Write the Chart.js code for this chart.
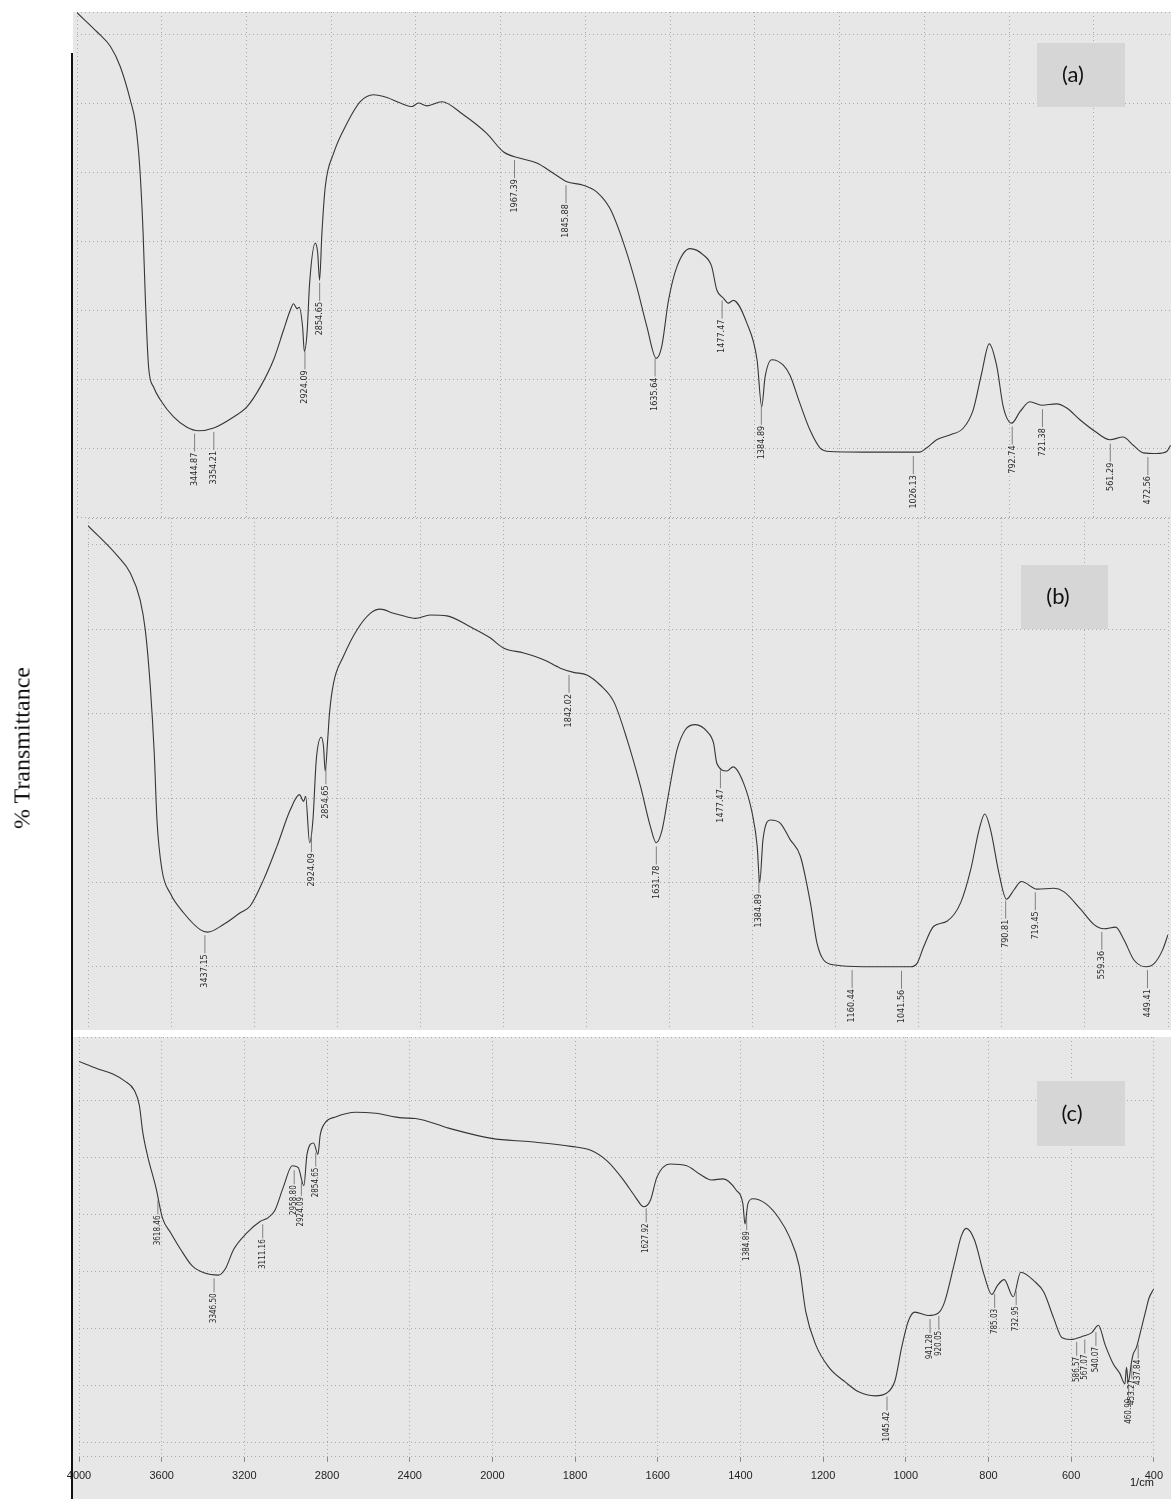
<!DOCTYPE html>
<html>
<head>
<meta charset="utf-8">
<script src="https://cdn.jsdelivr.net/npm/chart.js@4.4.0/dist/chart.umd.min.js"></script>
<style>
html, body { margin: 0; padding: 0; background: #fff; overflow: hidden; }
#page { position: relative; width: 1171px; height: 1499px; }
canvas { position: absolute; left: 0; }
#axisLine { position: absolute; left: 71px; top: 53px; width: 2px; height: 1446px; background: #111; z-index: 5; }
#ytitle { position: absolute; left: 22px; top: 748px; transform: translate(-50%, -50%) rotate(-90deg);
  white-space: nowrap; font: 24px "Liberation Serif", "Times New Roman", serif; color: #111; }
</style>
</head>
<body>
<div id="page">
  <canvas id="chartA" width="1171" height="506" style="top:12px"></canvas>
  <canvas id="chartB" width="1171" height="512" style="top:518px"></canvas>
  <canvas id="chartC" width="1171" height="462" style="top:1037px"></canvas>
  <div id="axisLine"></div>
  <div id="ytitle">% Transmittance</div>
</div>
<script>
// wavenumber ticks (1/cm)
var xTicks = [4000, 3600, 3200, 2800, 2400, 2000, 1800, 1600, 1400, 1200, 1000, 800, 600, 400];

// spectrum (a)
var wnA = [4000, 3905, 3842, 3796, 3748, 3724, 3704, 3688, 3677, 3662, 3638, 3607, 3544, 3481, 3426, 3355, 3261, 3197, 3134, 3072,
  3025, 2993, 2978, 2961, 2951, 2935, 2927, 2914, 2902, 2875, 2864, 2855, 2844, 2828, 2789, 2725, 2663, 2600, 2537, 2474,
  2419, 2388, 2348, 2278, 2176, 2066, 1993, 1954, 1915, 1875, 1844, 1805, 1773, 1742, 1710, 1679, 1655, 1633, 1620, 1604,
  1584, 1553, 1522, 1502, 1490, 1474, 1463, 1451, 1419, 1395, 1384, 1376, 1360, 1333, 1317, 1294, 1270, 1246, 1223, 1105,
  1011, 995, 971, 940, 908, 885, 865, 847, 829, 814, 794, 774, 751, 723, 688, 664, 633, 597, 562, 531, 507, 483, 452, 428, 419];
var tA = [73.1, 70.3, 68.2, 65.3, 60.4, 57.1, 50.8, 41.2, 31.4, 21.7, 18.8, 17.0, 14.5, 13.0, 12.5, 12.9, 14.5, 16.0, 18.9, 22.8,
  27.1, 30.0, 30.9, 30.2, 30.4, 27.5, 24.0, 26.7, 33.9, 39.7, 38.3, 34.3, 41.1, 47.9, 52.7, 57.1, 60.2, 61.2, 60.8, 60.0,
  59.5, 60.0, 59.6, 60.2, 58.3, 55.6, 52.9, 52.0, 51.3, 49.8, 48.6, 48.1, 47.1, 44.7, 39.7, 33.4, 27.6, 23.0, 24.7, 31.4,
  36.3, 38.9, 38.0, 36.3, 32.9, 31.7, 31.0, 31.4, 28.1, 22.8, 16.0, 20.3, 22.8, 22.0, 20.5, 16.5, 12.6, 10.0, 9.5, 9.4,
  9.4, 10.0, 11.2, 11.9, 12.9, 15.5, 20.8, 25.1, 21.8, 16.0, 13.6, 15.3, 16.7, 16.2, 16.4, 15.8, 14.1, 12.4, 11.2, 11.6, 10.4, 9.3, 9.2, 9.5, 10.4];
var peaksA = [3444.87, 3354.21, 2924.09, 2854.65, 1967.39, 1845.88, 1635.64, 1477.47, 1384.89, 1026.13, 792.74, 721.38, 561.29, 472.56];

// spectrum (b)
var wnB = [4000, 3854, 3797, 3749, 3724, 3700, 3681, 3668, 3644, 3604, 3540, 3460, 3424, 3348, 3267, 3219, 3155, 3090, 3026, 2982,
  2962, 2952, 2933, 2917, 2901, 2877, 2866, 2858, 2846, 2837, 2818, 2770, 2706, 2641, 2593, 2529, 2497, 2424, 2352, 2272,
  2160, 2064, 2000, 1951, 1903, 1863, 1831, 1799, 1767, 1734, 1702, 1670, 1646, 1632, 1618, 1602, 1582, 1562, 1538, 1510,
  1494, 1486, 1462, 1447, 1422, 1401, 1389, 1383, 1375, 1357, 1333, 1310, 1285, 1261, 1245, 1229, 1201, 1133, 1020, 1004,
  988, 964, 932, 899, 875, 855, 841, 827, 807, 789, 771, 753, 715, 675, 651, 610, 578, 554, 526, 506, 482, 453, 433, 413, 400];
var tB = [62.3, 58.6, 56.7, 53.5, 49.9, 43.2, 35.3, 27.4, 21.5, 18.7, 16.4, 14.4, 14.1, 15.0, 16.4, 17.2, 20.3, 24.3, 28.6, 30.4,
  29.6, 30.2, 24.7, 27.4, 34.5, 37.2, 36.1, 33.2, 36.9, 40.1, 43.6, 46.8, 49.9, 51.9, 52.4, 51.9, 51.7, 51.3, 51.7, 51.6,
  50.3, 49.0, 47.8, 47.2, 46.4, 45.4, 44.9, 44.6, 43.4, 41.4, 36.9, 31.4, 26.6, 24.7, 26.2, 30.6, 35.7, 38.1, 38.7, 37.9,
  36.5, 34.1, 33.2, 33.7, 31.8, 28.2, 24.3, 20.0, 25.1, 27.4, 27.0, 25.1, 23.1, 17.6, 12.8, 10.8, 10.2, 10.0, 10.0, 10.4,
  12.4, 14.8, 15.4, 17.6, 21.5, 26.2, 28.1, 26.2, 21.1, 18.0, 19.1, 20.1, 19.2, 19.3, 18.9, 16.8, 15.0, 14.5, 14.7, 13.2, 10.8, 10.0, 10.4, 12.0, 13.8];
var peaksB = [3437.15, 2924.09, 2854.65, 1842.02, 1631.78, 1477.47, 1384.89, 1160.44, 1041.56, 790.81, 719.45, 559.36, 449.41];

// spectrum (c)
var wnC = [4000, 3908, 3836, 3780, 3732, 3708, 3692, 3668, 3628, 3596, 3556, 3508, 3452, 3396, 3324, 3292, 3252, 3188, 3124, 3084,
  3052, 3012, 2968, 2940, 2912, 2897, 2865, 2844, 2833, 2812, 2756, 2660, 2564, 2436, 2372, 2212, 2004, 1906, 1810, 1762,
  1722, 1682, 1654, 1634, 1618, 1602, 1570, 1530, 1498, 1470, 1442, 1410, 1394, 1389, 1382, 1370, 1338, 1306, 1282, 1258,
  1242, 1218, 1186, 1146, 1114, 1074, 1046, 1026, 1010, 994, 978, 946, 922, 906, 882, 866, 854, 834, 810, 792,
  778, 762, 740, 722, 690, 666, 642, 622, 602, 570, 550, 534, 518, 498, 482, 470, 466, 462, 454, 450, 442, 430, 418, 412, 400];
var tC = [66.9, 65.6, 64.7, 63.5, 61.8, 59.2, 54.6, 50.3, 44.8, 39.4, 36.8, 33.9, 31.0, 29.8, 29.4, 30.5, 33.9, 36.8, 38.8, 39.5,
  40.8, 44.8, 48.6, 48.3, 45.1, 50.6, 52.6, 50.6, 54.0, 56.0, 57.2, 58.0, 57.8, 57.0, 56.9, 55.2, 53.4, 52.8, 52.0, 51.3,
  49.4, 46.0, 43.1, 41.4, 42.5, 46.6, 48.9, 48.6, 47.1, 46.1, 46.3, 44.3, 41.9, 38.4, 41.9, 42.8, 41.9, 39.3, 36.2, 31.0,
  23.0, 17.2, 13.2, 10.6, 8.9, 8.2, 8.7, 10.9, 16.7, 21.3, 22.9, 22.3, 22.7, 24.7, 31.6, 36.2, 37.6, 35.6, 29.3, 26.0,
  27.6, 28.6, 25.6, 29.9, 28.4, 26.4, 21.8, 18.4, 18.1, 18.7, 19.3, 20.6, 17.2, 13.8, 12.1, 10.3, 13.2, 10.6, 14.1, 15.5, 16.7, 20.1, 23.6, 25.3, 27.0];
var peaksC = [3618.46, 3346.50, 3111.16, 2958.80, 2924.09, 2854.65, 1627.92, 1384.89, 1045.42, 941.28, 920.05, 785.03, 732.95,
  586.57, 567.07, 540.07, 460.99, 453.27, 437.84];

// the spectrometer prints 4000-2000 at half the scale of 2000-400
function units(v) {
    return v >= 2000 ? (4000 - v) / 2 : 3000 - v;
}

class WaveScale extends Chart.LinearScale {
    static id = 'wave';
    buildTicks() {
        return xTicks.filter(v => v >= this.min && v <= this.max).map(v => ({ value: v }));
    }
    getPixelForValue(value) {
        var a = units(this.max), b = units(this.min);
        return this.getPixelForDecimal((units(value) - a) / (b - a));
    }
    getValueForPixel(pixel) {
        var a = units(this.max), b = units(this.min);
        var u = a + this.getDecimalForPixel(pixel) * (b - a);
        return u <= 1000 ? 4000 - 2 * u : 3000 - u;
    }
}
Chart.register(WaveScale);

function valueAt(pts, wn) {
    for (var i = 0; i < pts.length - 1; i++) {
        var a = pts[i], b = pts[i + 1];
        if (wn <= a.x && wn >= b.x) {
            return a.y + (b.y - a.y) * (a.x - wn) / (a.x - b.x);
        }
    }
    return pts[pts.length - 1].y;
}

const irDecor = {
    id: 'irDecor',
    beforeDraw(chart, args, o) {
        var ctx = chart.ctx;
        ctx.save();
        ctx.fillStyle = '#e7e7e7';
        ctx.fillRect(o.paperLeft, 0, chart.width - o.paperLeft, chart.height);
        ctx.restore();
    },
    afterDatasetsDraw(chart, args, o) {
        var ctx = chart.ctx;
        var x = chart.scales.x, y = chart.scales.y;
        var pts = chart.data.datasets[0].data;
        ctx.save();
        ctx.font = o.size + 'px "Liberation Sans Narrow", "DejaVu Sans Condensed", "Liberation Sans", sans-serif';
        ctx.fillStyle = '#2a2a2a';
        ctx.strokeStyle = '#666';
        ctx.lineWidth = 0.8;
        ctx.textAlign = 'right';
        ctx.textBaseline = 'middle';
        o.peaks.forEach(p => {
            var px = x.getPixelForValue(p);
            var py = y.getPixelForValue(valueAt(pts, p));
            ctx.beginPath();
            ctx.moveTo(px, py + 4);
            ctx.lineTo(px, py + o.gap - 1);
            ctx.stroke();
            ctx.save();
            ctx.translate(px, py + o.gap);
            ctx.rotate(-Math.PI / 2);
            ctx.fillText(p.toFixed(2), 0, 0);
            ctx.restore();
        });
        // panel tag
        var t = o.tag;
        ctx.fillStyle = '#d6d6d6';
        ctx.fillRect(t.x, t.y, t.w, t.h);
        ctx.fillStyle = '#111';
        ctx.font = '22px Lato, "Open Sans", sans-serif';
        ctx.textAlign = 'center';
        ctx.fillText(t.text, t.tx, t.y + t.h / 2);
        if (o.unit) {
            ctx.font = '11px "Liberation Sans", Arial, sans-serif';
            ctx.textAlign = 'right';
            ctx.fillText(o.unit, x.right, chart.chartArea.bottom + 26);
        }
        ctx.restore();
    }
};

function makeChart(id, wn, tr, peaks, setup) {
    var ctx = document.getElementById(id).getContext('2d');
    return new Chart(ctx, {
        type: 'line',
        data: {
            datasets: [{
                data: wn.map((w, i) => ({ x: w, y: tr[i] })),
                borderColor: '#363636',
                borderWidth: 1.1,
                pointRadius: 0,
                fill: false,
                cubicInterpolationMode: 'monotone'
            }]
        },
        options: {
            responsive: false,
            animation: false,
            events: [],
            layout: { padding: setup.padding },
            plugins: {
                legend: { display: false },
                tooltip: { enabled: false },
                irDecor: {
                    paperLeft: 73,
                    peaks: peaks,
                    size: setup.labelSize,
                    gap: setup.gap,
                    tag: setup.tag,
                    unit: setup.unit
                }
            },
            scales: {
                x: {
                    type: 'wave',
                    min: setup.xMin,
                    max: 4000,
                    grid: { color: '#a9a9a9', lineWidth: 1, drawTicks: setup.axis, tickLength: 5, tickColor: '#888' },
                    border: { display: false, dash: [1, 3] },
                    ticks: {
                        display: setup.axis,
                        autoSkip: false,
                        maxRotation: 0,
                        padding: 8,
                        color: '#1e1e1e',
                        font: { family: '"Liberation Sans", Arial, sans-serif', size: 11 },
                        callback: v => String(v)
                    }
                },
                y: {
                    min: setup.yMin,
                    max: setup.yMax,
                    grid: { color: '#a9a9a9', lineWidth: 1, drawTicks: false },
                    border: { display: false, dash: [1, 3] },
                    ticks: { display: false, stepSize: 10 }
                }
            }
        },
        plugins: [irDecor]
    });
}

makeChart('chartA', wnA, tA, peaksA, {
    padding: { left: 77, right: 0, top: 0, bottom: 1 },
    xMin: 418, yMin: 0, yMax: 73.2, axis: false, labelSize: 9, gap: 23,
    tag: { text: '(a)', x: 1037, y: 31, w: 88, h: 64, tx: 1073 }
});
makeChart('chartB', wnB, tB, peaksB, {
    padding: { left: 88, right: 3, top: 0, bottom: 0 },
    xMin: 400, yMin: 2.5, yMax: 63.2, axis: false, labelSize: 9, gap: 23,
    tag: { text: '(b)', x: 1021, y: 47, w: 87, h: 64, tx: 1058 }
});
makeChart('chartC', wnC, tC, peaksC, {
    padding: { left: 79, right: 14, top: 0, bottom: 8 },
    xMin: 400, yMin: -2.5, yMax: 71.2, axis: true, labelSize: 8, gap: 19,
    tag: { text: '(c)', x: 1037, y: 44, w: 88, h: 65, tx: 1072 },
    unit: '1/cm'
});
</script>
</body>
</html>
